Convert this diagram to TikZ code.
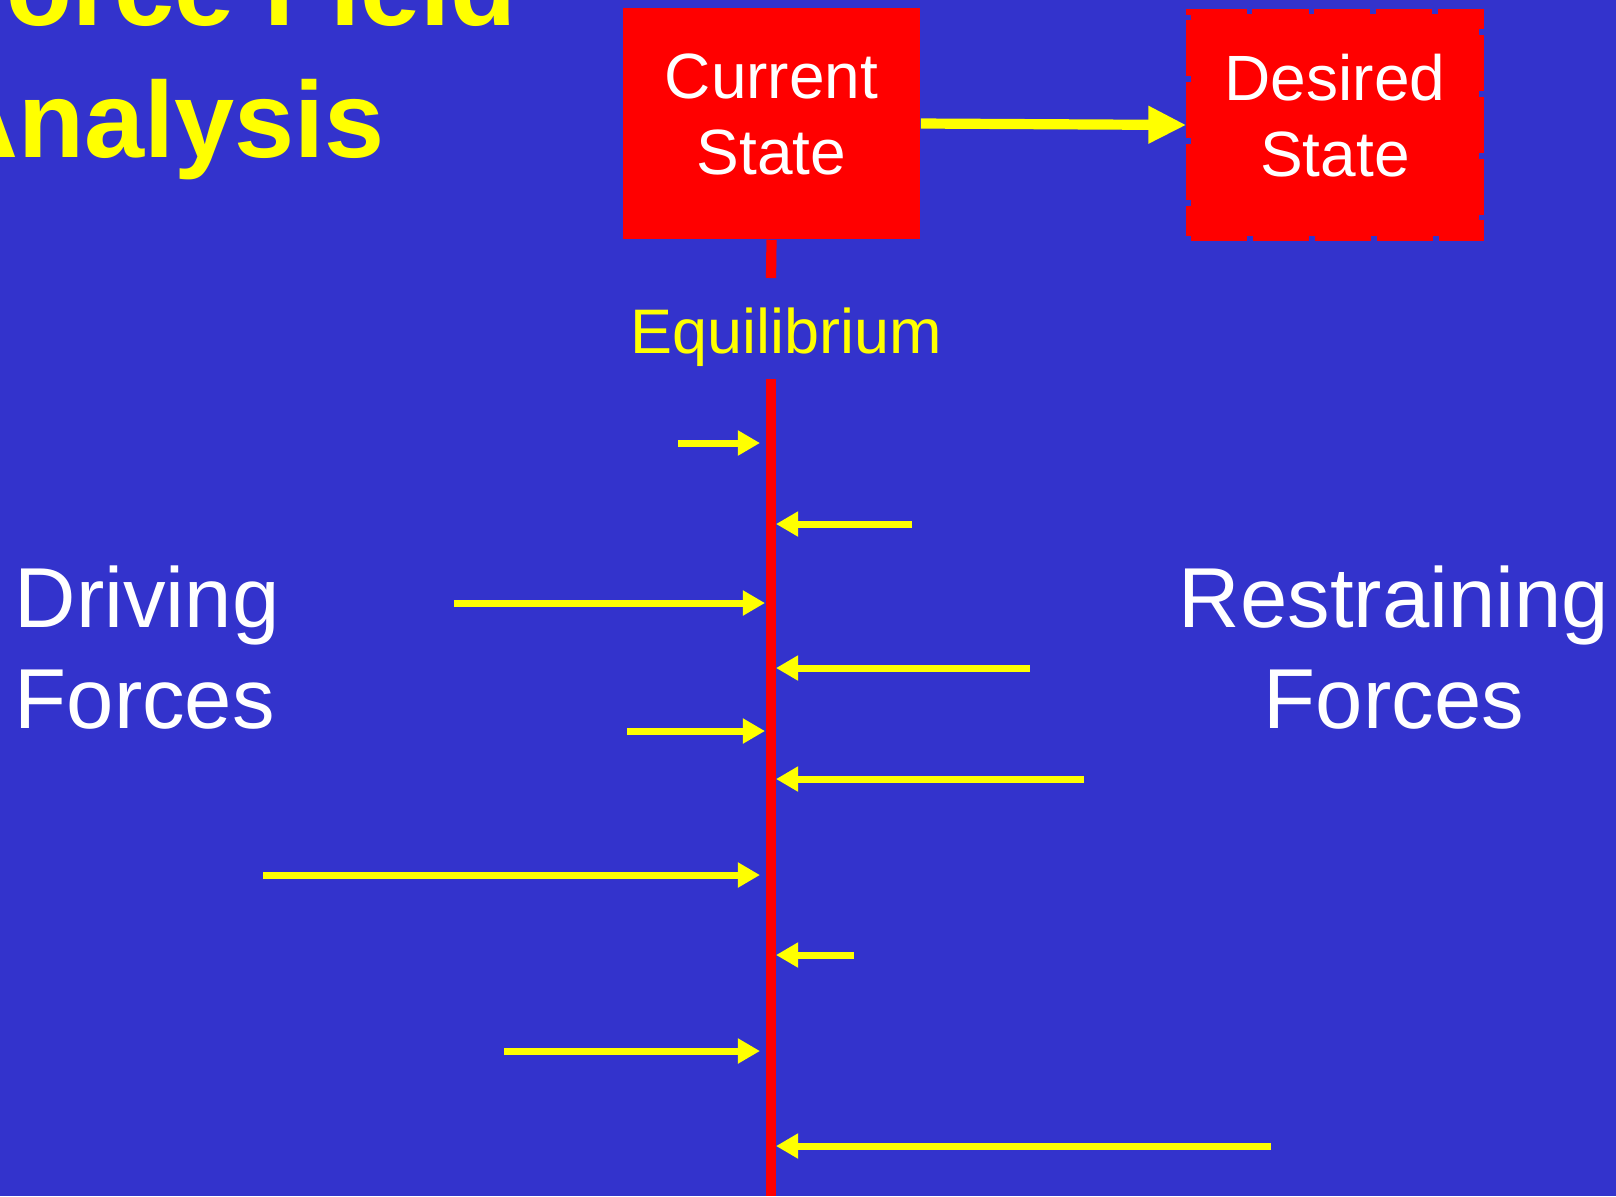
\documentclass[tikz,border=0pt]{standalone}
\usepackage{fontspec}
\setmainfont{Liberation Sans}
\usetikzlibrary{arrows.meta,positioning}
\definecolor{slideblue}{RGB}{51,51,204}
\definecolor{slidered}{RGB}{255,0,0}
\definecolor{slideyellow}{RGB}{255,255,0}

\begin{document}
\begin{tikzpicture}[x=0.01cm, y=-0.01cm,
	statebox/.style={fill=slidered, minimum width=2.97cm, minimum height=2.31cm, inner sep=0pt,
		text depth=5.5pt, text=white, align=center, font=\fontsize{18.2}{21.6}\selectfont},
	force/.style={slideyellow, line width=2pt, -{Triangle[length=6.3pt, width=6.8pt]}},
	axis/.style={slidered, line width=2.9pt}]

	\fill[slideblue] (0,0) rectangle (1616,1196);
	\useasboundingbox (0,0) rectangle (1616,1196);

	% title, cut by the left and top edges
	\node[anchor=base west, inner sep=0pt, align=left, text=slideyellow,
		font=\fontsize{30.7}{37.3}\selectfont\bfseries] (title) at (-60,157) {Force Field\\Analysis};

	% the two states
	\node[statebox] (current) at (771.5,123.5) {Current\\State};
	\node[statebox, minimum width=2.88cm, minimum height=2.22cm, draw=slidered, dashed,
		dash pattern=on 16pt off 1.6pt, line width=2.6pt] (desired) at (1335,125) {Desired\\State};
	\draw[slideyellow, line width=2.9pt, -{Triangle[length=10.8pt, width=10pt]}] (current.east) -- (desired.west);

	% equilibrium line
	\coordinate (eqtop) at (771,278);
	\node[text=slideyellow, font=\fontsize{17.9}{21}\selectfont] (equil) at (786,337) {Equilibrium};
	\coordinate (eqstart) at (771,379);
	\coordinate (eqend) at (771,1196);
	\draw[axis] (current.south) -- (eqtop);
	\draw[axis] (eqstart) -- (eqend);

	% driving forces (left) and restraining forces (right)
	\foreach \y/\x/\tip [count=\i] in {443/678/760, 603/454/765, 731/627/765, 875/263/760, 1051/504/760} {
		\coordinate (drive\i) at (\x,\y);
		\coordinate (drivetip\i) at (\tip,\y);
		\draw[force] (drive\i) -- (drivetip\i);
	}
	\foreach \y/\x [count=\i] in {524/912, 668/1030, 779/1084, 955/854, 1146/1271} {
		\coordinate (restrain\i) at (\x,\y);
		\coordinate (restraintip\i) at (776,\y);
		\draw[force] (restrain\i) -- (restraintip\i);
	}

	% side labels
	\node[anchor=base west, inner sep=0pt, align=left, text=white,
		font=\fontsize{24.2}{28.7}\selectfont] (driving) at (14,728) {Driving\\Forces};
	\node[anchor=base, inner sep=0pt, align=center, text=white,
		font=\fontsize{24.2}{28.7}\selectfont] (restraining) at (1394,728) {Restraining\\Forces};
\end{tikzpicture}
\end{document}
